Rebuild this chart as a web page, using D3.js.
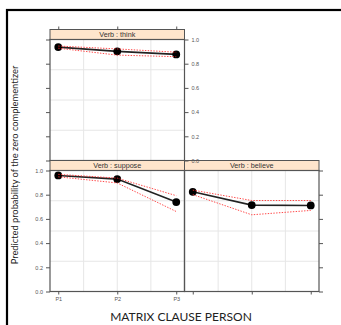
<!DOCTYPE html>
<html>
<head>
<meta charset="utf-8">
<script src="https://cdn.jsdelivr.net/npm/d3@7"></script>
<style>
  html, body { margin: 0; padding: 0; background: #fff; }
  svg { display: block; }
</style>
</head>
<body>
<svg id="chart" width="341" height="325"></svg>
<script>
// Effect plot: predicted probability of the zero complementizer by matrix clause person, one panel per verb
const persons = ["P1", "P2", "P3"];
const verbs = ["think", "suppose", "believe"];
const fitThink = [0.937, 0.902, 0.877];
const lowerThink = [0.928, 0.871, 0.858];
const upperThink = [0.946, 0.922, 0.895];
const fitSuppose = [0.959, 0.929, 0.739];
const lowerSuppose = [0.948, 0.897, 0.661];
const upperSuppose = [0.968, 0.937, 0.792];
const fitBelieve = [0.824, 0.714, 0.711];
const lowerBelieve = [0.801, 0.634, 0.670];
const upperBelieve = [0.838, 0.752, 0.752];
const yTicks = [0.0, 0.2, 0.4, 0.6, 0.8, 1.0];
const yGrid = [0.25, 0.5, 0.75];
const xTitle = "MATRIX CLAUSE PERSON";
const yTitle = "Predicted probability of the zero complementizer";

const series = {
  think: { fit: fitThink, lower: lowerThink, upper: upperThink },
  suppose: { fit: fitSuppose, lower: lowerSuppose, upper: upperSuppose },
  believe: { fit: fitBelieve, lower: lowerBelieve, upper: upperBelieve }
};

const svg = d3.select("#chart");

// outer frame
svg.append("rect")
  .attr("x", 7).attr("y", 10).attr("width", 345).attr("height", 330)
  .attr("fill", "none").attr("stroke", "#000").attr("stroke-width", 2.2);

// panel geometry (lattice layout: 2 columns x 2 rows, top-right empty)
const colX = [50, 184.5];
const panelW = 134.5;
const stripH = 10;
const rowTop = [29.5, 160.5];
const plotH = 121;

// x positions: numeric person index 1..3 with lattice padding
const x = d3.scaleLinear().domain([0.86, 3.14]);
const xGrid = [1.43, 2, 2.57];

const panels = [
  { verb: "think", col: 0, row: 0, left: "ticks", right: "labels", top: true, bottom: false },
  { verb: "suppose", col: 0, row: 1, left: "labels", right: "none", top: false, bottom: "labels" },
  { verb: "believe", col: 1, row: 1, left: "none", right: "ticks", top: false, bottom: "ticks" }
];

const tickCol = "#555";
const tickFont = "'Liberation Sans', Arial, sans-serif";

function geom(p) {
  const x0 = colX[p.col];
  const sTop = rowTop[p.row];
  const pTop = sTop + stripH;
  const xs = x.copy().range([x0, x0 + panelW]);
  const ys = d3.scaleLinear().domain([0, 1]).range([pTop + plotH, pTop]);
  return { x0, sTop, pTop, xs, ys };
}

// panel contents
panels.forEach(p => {
  const { x0, sTop, pTop, xs, ys } = geom(p);
  const g = svg.append("g");
  const d = series[p.verb];

  g.selectAll(".gx").data(xGrid).join("line")
    .attr("x1", v => xs(v)).attr("x2", v => xs(v))
    .attr("y1", pTop).attr("y2", pTop + plotH)
    .attr("stroke", "#e6e6e6").attr("stroke-width", 1);
  g.selectAll(".gy").data(yGrid).join("line")
    .attr("x1", x0).attr("x2", x0 + panelW)
    .attr("y1", v => ys(v)).attr("y2", v => ys(v))
    .attr("stroke", "#e6e6e6").attr("stroke-width", 1);

  g.append("rect")
    .attr("x", x0).attr("y", sTop).attr("width", panelW).attr("height", stripH)
    .attr("fill", "#ffe5cc").attr("stroke", "#555").attr("stroke-width", 1);
  g.append("text")
    .attr("x", x0 + panelW / 2).attr("y", sTop + stripH / 2 + 2.5)
    .attr("text-anchor", "middle")
    .attr("font-family", tickFont).attr("font-size", 7.2).attr("fill", "#333")
    .text("Verb : " + p.verb);

  const line = d3.line().x((v, i) => xs(i + 1)).y(v => ys(v));
  g.append("path").attr("d", line(d.fit))
    .attr("fill", "none").attr("stroke", "#222").attr("stroke-width", 1.6);
  g.selectAll(".pt").data(d.fit).join("circle")
    .attr("cx", (v, i) => xs(i + 1)).attr("cy", v => ys(v)).attr("r", 3.9)
    .attr("fill", "#000");

  [d.lower, d.upper].forEach(b => {
    g.append("path").attr("d", line(b))
      .attr("fill", "none").attr("stroke", "#ff2a2a").attr("stroke-width", 1)
      .attr("stroke-dasharray", "1.4,1.4").attr("opacity", 0.85);
  });

  g.append("rect")
    .attr("x", x0).attr("y", pTop).attr("width", panelW).attr("height", plotH)
    .attr("fill", "none").attr("stroke", "#555").attr("stroke-width", 1.2);
});

// axes drawn last so labels sit above neighbouring strips
panels.forEach(p => {
  const { x0, sTop, pTop, xs, ys } = geom(p);
  const g = svg.append("g");
  if (p.top) {
    const ax = d3.axisTop(xs).tickValues([1, 2, 3]).tickSize(3).tickFormat("");
    g.append("g").attr("transform", `translate(0,${sTop})`).call(ax);
  }
  if (p.bottom) {
    const ax = d3.axisBottom(xs).tickValues([1, 2, 3]).tickSize(3).tickPadding(3)
      .tickFormat(p.bottom === "labels" ? (v => persons[v - 1]) : "");
    g.append("g").attr("transform", `translate(0,${pTop + plotH})`).call(ax);
  }
  if (p.left !== "none") {
    const ax = d3.axisLeft(ys).tickValues(yTicks).tickSize(4).tickPadding(3)
      .tickFormat(p.left === "labels" ? d3.format(".1f") : "");
    g.append("g").attr("transform", `translate(${x0},0)`).call(ax);
  }
  if (p.right !== "none") {
    const ax = d3.axisRight(ys).tickValues(yTicks).tickSize(4).tickPadding(3)
      .tickFormat(p.right === "labels" ? d3.format(".1f") : "");
    g.append("g").attr("transform", `translate(${x0 + panelW},0)`).call(ax);
  }
});

svg.selectAll(".domain").remove();
svg.selectAll(".tick line").attr("stroke", tickCol).attr("stroke-width", 1);
svg.selectAll(".tick text")
  .attr("font-family", tickFont).attr("font-size", 5.5).attr("fill", "#555");

// axis titles
svg.append("text")
  .attr("x", 181).attr("y", 321)
  .attr("text-anchor", "middle")
  .attr("font-family", "Lato, 'Open Sans', sans-serif").attr("font-size", 12)
  .attr("fill", "#222")
  .text(xTitle);
svg.append("text")
  .attr("transform", "translate(18,165) rotate(-90)")
  .attr("text-anchor", "middle")
  .attr("font-family", "Lato, 'Open Sans', sans-serif").attr("font-size", 9.3)
  .attr("fill", "#222")
  .text(yTitle);
</script>
</body>
</html>
